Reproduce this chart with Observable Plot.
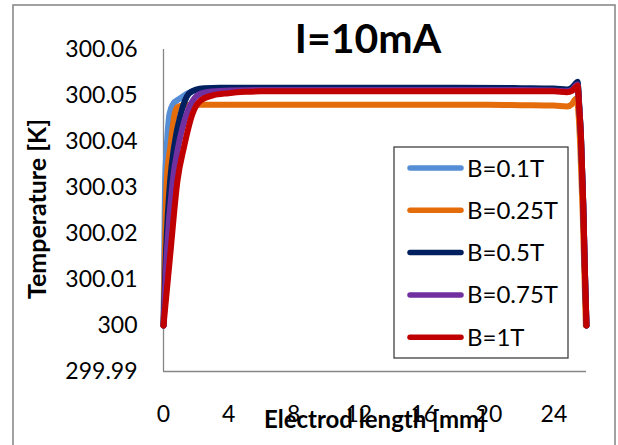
<!DOCTYPE html>
<html>
<head>
<meta charset="utf-8">
<script src="https://cdn.jsdelivr.net/npm/d3@7"></script>
<script src="https://cdn.jsdelivr.net/npm/@observablehq/plot@0.6"></script>
<style>
  html, body { margin: 0; padding: 0; background: #fff; }
  #chart { width: 618px; height: 445px; overflow: hidden; }
</style>
</head>
<body>
<div id="chart"></div>
<script>
const titleText = "I=10mA";
const xLabel = "Electrod length [mm]";
const yLabel = "Temperature [K]";

const seriesNames = ["B=0.1T", "B=0.25T", "B=0.5T", "B=0.75T", "B=1T"];
const seriesColors = ["#558ED5", "#E46C0A", "#002060", "#7030A0", "#C00000"];

const xTicks = [0, 4, 8, 12, 16, 20, 24];
const xTickLabels = ["0", "4", "8", "12", "16", "20", "24"];
const yTicks = [299.99, 300, 300.01, 300.02, 300.03, 300.04, 300.05, 300.06];
const yTickLabels = ["299.99", "300", "300.01", "300.02", "300.03", "300.04", "300.05", "300.06"];

// B=0.1T
const xB01 = [0, 0.05, 0.1, 0.2, 0.37, 0.6, 0.95, 1.5, 2.2, 3, 6, 10, 14, 18, 22, 24, 24.8, 25.1, 25.3, 25.45, 25.55, 25.66, 25.8, 25.9, 26];
const tB01 = [300.000, 300.016, 300.0315, 300.0388, 300.046, 300.0482, 300.0492, 300.0505, 300.0512, 300.0514, 300.0514, 300.0514, 300.0514, 300.0514, 300.0514, 300.0513, 300.0511, 300.0515, 300.0522, 300.0527, 300.048, 300.041, 300.0265, 300.012, 300.000];
// B=0.25T
const xB025 = [0, 0.08, 0.2, 0.42, 0.69, 0.84, 1.2, 1.85, 4, 8, 12, 16, 20, 22, 24, 24.8, 25.1, 25.35, 25.42, 25.52, 25.62, 25.77, 25.88, 25.96];
const tB025 = [300.000, 300.0156, 300.0315, 300.0388, 300.046, 300.0474, 300.0479, 300.048, 300.048, 300.048, 300.048, 300.048, 300.048, 300.0479, 300.0478, 300.0476, 300.0481, 300.0493, 300.049, 300.0455, 300.0385, 300.024, 300.010, 300.000];
// B=0.5T
const xB05 = [0, 0.15, 0.41, 0.65, 1.06, 1.55, 2.0, 2.5, 3.5, 6, 10, 14, 18, 22, 24, 24.8, 25.1, 25.3, 25.45, 25.55, 25.66, 25.8, 25.9, 26];
const tB05 = [300.000, 300.0156, 300.0315, 300.0388, 300.046, 300.0504, 300.0513, 300.0516, 300.0517, 300.0517, 300.0517, 300.0517, 300.0517, 300.0516, 300.0515, 300.0513, 300.0517, 300.0525, 300.053, 300.048, 300.041, 300.0265, 300.012, 300.000];
// B=0.75T
const xB075 = [0, 0.2, 0.57, 0.9, 1.42, 2.28, 3, 4, 6, 10, 14, 18, 22, 24, 24.8, 25.1, 25.3, 25.45, 25.55, 25.66, 25.8, 25.9, 26];
const tB075 = [300.000, 300.0156, 300.0315, 300.0388, 300.046, 300.0504, 300.0509, 300.0511, 300.0512, 300.0512, 300.0512, 300.0512, 300.0512, 300.0511, 300.0509, 300.0512, 300.052, 300.0524, 300.0478, 300.041, 300.0265, 300.012, 300.000];
// B=1T
const xB1 = [0, 0.42, 0.86, 1.26, 1.78, 2.28, 3, 4, 5, 6, 10, 14, 18, 22, 24, 24.8, 25.1, 25.3, 25.45, 25.55, 25.66, 25.8, 25.9, 26];
const tB1 = [300.000, 300.0156, 300.0315, 300.0388, 300.046, 300.0489, 300.0500, 300.0505, 300.0508, 300.0509, 300.0509, 300.0509, 300.0509, 300.0509, 300.0509, 300.0507, 300.051, 300.0517, 300.0522, 300.0475, 300.041, 300.0265, 300.012, 300.000];

const seriesX = [xB01, xB025, xB05, xB075, xB1];
const seriesT = [tB01, tB025, tB05, tB075, tB1];

const data = [];
seriesNames.forEach((name, i) => {
  seriesX[i].forEach((x, j) => data.push({ series: name, x, t: seriesT[i][j] }));
});

const FONT = "Lato, 'Open Sans', sans-serif";

const plot = Plot.plot({
  width: 618,
  height: 445,
  marginLeft: 163,
  marginRight: 32,
  marginTop: 49,
  marginBottom: 74,
  style: { fontFamily: FONT, fontSize: "23px", color: "#000", background: "#fff", overflow: "visible" },
  x: { domain: [0, 26] },
  y: { domain: [299.99, 300.06] },
  color: { domain: seriesNames, range: seriesColors },
  marks: [
    Plot.axisX({ ticks: xTicks, tickSize: 0, tickPadding: 34, tickFormat: (d) => xTickLabels[xTicks.indexOf(d)], label: null, fontSize: 23 }),
    Plot.axisY({ ticks: yTicks, tickSize: 0, tickPadding: 26, tickFormat: (d, i) => yTickLabels[i], label: null, fontSize: 23 }),
    Plot.ruleX([0], { y1: 299.99, y2: 300.06, stroke: "#868686", strokeWidth: 1.3 }),
    Plot.ruleY([299.99], { x1: 0, x2: 26, stroke: "#868686", strokeWidth: 1.3 }),
    Plot.line(data, { x: "x", y: "t", z: "series", stroke: "series", strokeWidth: 6, curve: "monotone-x", strokeLinejoin: "round", strokeLinecap: "round" })
  ]
});

document.getElementById("chart").appendChild(plot);

const svg = d3.select(plot);
// outer frame
svg.append("rect").attr("x", 13).attr("y", 5).attr("width", 602).attr("height", 450)
  .attr("fill", "none").attr("stroke", "#8a8a8a").attr("stroke-width", 1.6);

// title
svg.append("text").attr("x", 368).attr("y", 53).attr("text-anchor", "middle")
  .attr("font-family", FONT).attr("font-weight", "bold").attr("font-size", 41).attr("fill", "#000")
  .text(titleText);

// y label
svg.append("text").attr("transform", "translate(46,209) rotate(-90)").attr("text-anchor", "middle")
  .attr("font-family", FONT).attr("font-weight", "bold").attr("font-size", 25).attr("fill", "#000")
  .text(yLabel);

// x label
svg.append("text").attr("x", 375).attr("y", 428).attr("text-anchor", "middle")
  .attr("font-family", FONT).attr("font-weight", "bold").attr("font-size", 24).attr("fill", "#000")
  .text(xLabel);

// legend
const lg = svg.append("g");
lg.append("rect").attr("x", 394).attr("y", 147).attr("width", 174).attr("height", 211)
  .attr("fill", "#fff").attr("stroke", "#404040").attr("stroke-width", 1.3);
seriesNames.forEach((name, i) => {
  const cy = 168 + i * 42.3;
  lg.append("line").attr("x1", 410).attr("x2", 461).attr("y1", cy).attr("y2", cy)
    .attr("stroke", seriesColors[i]).attr("stroke-width", 5.5).attr("stroke-linecap", "round");
  lg.append("text").attr("x", 467).attr("y", cy + 8.5).attr("text-anchor", "start")
    .attr("font-family", FONT).attr("font-size", 24).attr("fill", "#000").text(name);
});
</script>
</body>
</html>
